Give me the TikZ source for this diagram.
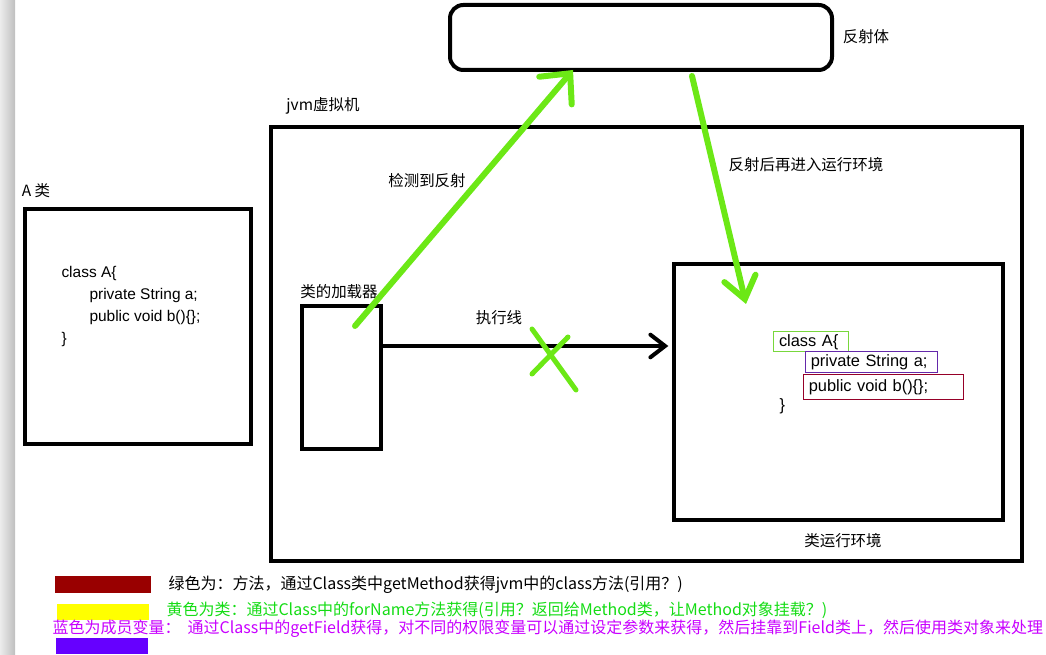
\documentclass[tikz,border=0pt]{standalone}
\usepackage{fontspec}
\setmainfont{Noto Sans CJK SC}
\newfontfamily\codefont{Liberation Sans}
\usetikzlibrary{arrows.meta}

\definecolor{lineGreen}{RGB}{108,232,22}
\definecolor{textGreen}{RGB}{20,220,20}
\definecolor{textViolet}{RGB}{200,0,255}
\definecolor{boxGreen}{RGB}{120,215,60}
\definecolor{boxPurple}{RGB}{100,40,170}
\definecolor{boxRed}{RGB}{150,0,40}
\definecolor{keyRed}{RGB}{153,0,0}
\definecolor{keyYellow}{RGB}{255,255,0}
\definecolor{keyViolet}{RGB}{102,0,255}

\tikzset{every picture/.style={line width=0.75pt}}
\tikzset{
  heavybox/.style={draw, line width=3pt, inner sep=0pt},
  tag/.style={font=\fontsize{11.6}{14}\selectfont, inner sep=0pt},
  codeline/.style={font=\codefont\fontsize{11.6}{14}\selectfont, anchor=west, inner sep=0pt},
  codebox/.style={draw, line width=0.75pt, anchor=west, inner xsep=4pt, inner ysep=0pt, align=left,
    font=\codefont\fontsize{12.3}{14}\selectfont},
  keytext/.style={font=\fontsize{12}{14}\selectfont, anchor=west, inner sep=0pt},
  greenarrow/.style={draw=lineGreen, line width=4.5pt, line cap=round,
    -{Straight Barb[length=17pt,width=32pt,line cap=round]}},
}

\begin{document}
\begin{tikzpicture}[x=0.75pt,y=0.75pt,yscale=-1,xscale=1]
\useasboundingbox (0,0) rectangle (1046,655);
%left page shadow
\shade [left color=gray!15, right color=gray!50] (0,0) rectangle (15,655);

%Shape: Rectangle (reflection)
\node (reflect) [heavybox, rounded corners=10pt, minimum width=286.5pt, minimum height=48.75pt] at (641,37.5) {};
%Shape: Rectangle (jvm)
\node (jvm) [heavybox, minimum width=563.25pt, minimum height=325.5pt] at (646.5,344) {};
%Shape: Rectangle (class A)
\node (aBox) [heavybox, minimum width=169.5pt, minimum height=176.25pt] at (138,326.5) {};
%Shape: Rectangle (loader)
\node (loader) [heavybox, minimum width=59.25pt, minimum height=107.25pt] at (341.5,377.5) {};
%Shape: Rectangle (runtime)
\node (runtime) [heavybox, line width=2.5pt, minimum width=246.75pt, minimum height=192pt] at (838.5,392) {};

% Text Node
\node (reflectTag) [tag] at (866,37) {反射体};
\node (jvmTag) [tag] at (323,106) {jvm虚拟机};
\node (aTag) [tag] at (36,191) {A 类};
\node (detectTag) [tag] at (427,181) {检测到反射};
\node (loaderTag) [tag] at (339,292) {类的加载器};
\node (execTag) [tag] at (499,318) {执行线};
\node (backTag) [tag] at (806,165) {反射后再进入运行环境};
\node (runtimeTag) [tag] at (843,541) {类运行环境};

% code of class A
\node (aLine1) [codeline] at (61,274) {class A\{};
\node (aLine2) [codeline] at (89,296) {private String a;};
\node (aLine3) [codeline] at (89,318) {public void b()\{\};};
\node (aLine4) [codeline] at (61,340) {\}};

% code in runtime
\node (rtClass) [codebox, draw=boxGreen, minimum width=56.25pt, minimum height=15pt, text width=48pt] at (773,342) {class A\{};
\node (rtField) [codebox, draw=boxPurple, minimum width=99pt, minimum height=15.75pt, text width=91pt] at (805,362.5) {private String a;};
\node (rtMethod) [codebox, draw=boxRed, minimum width=120pt, minimum height=18.75pt, text width=112pt] at (803,387.5) {public void b()\{\};};
\node (rtEnd) [codeline, font=\codefont\fontsize{12.3}{14}\selectfont] at (779,406) {\}};

%Straight Lines (execution line)
\coordinate (execY) at (0,346);
\draw [line width=3pt, -{Straight Barb[length=11pt,width=17pt,line cap=round]}, shorten >=3pt]
  (loader.east |- execY) -- (runtime.west |- execY);
%cross
\draw [lineGreen, line width=3.75pt, line cap=round] (532,329) -- (576,390);
\draw [lineGreen, line width=3.75pt, line cap=round] (568,337) -- (532,374);

%Straight Lines (green arrows)
\coordinate (detectStart) at (355,326);
\coordinate (detectEnd) at (573,70);
\draw [greenarrow] (detectStart) -- (detectEnd);
\coordinate (backStart) at (692,76);
\coordinate (backEnd) at (746,304);
\draw [greenarrow, -{Straight Barb[length=16pt,width=24pt,line cap=round]}] (backStart) -- (backEnd);

% legend
\fill [keyRed] (55,576) rectangle (151,593);
\fill [keyYellow] (57,604) rectangle (149,620);
\fill [keyViolet] (56,638) rectangle (148,654);
\node (keyMethod) [keytext] at (168,585) {绿色为：方法，通过Class类中getMethod获得jvm中的class方法(引用？)};
\node (keyClass) [keytext, textGreen] at (166,610) {黄色为类：通过Class中的forName方法获得(引用？返回给Method类，让Method对象挂载？)};
\node (keyField) [keytext, textViolet] at (52,629) {蓝色为成员变量：\ \ 通过Class中的getField获得，对不同的权限变量可以通过设定参数来获得，然后挂靠到Field类上，然后使用类对象来处理};

\end{tikzpicture}
\end{document}
